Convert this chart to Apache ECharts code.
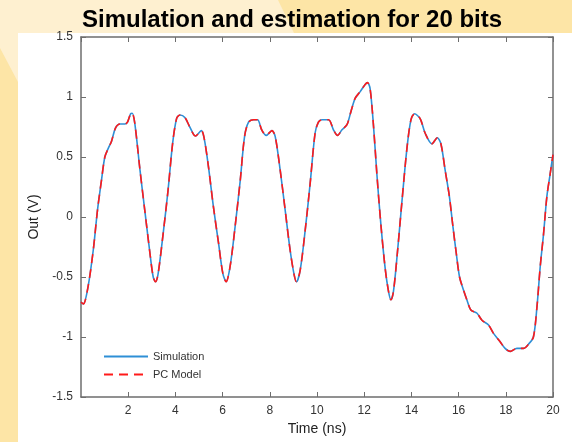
<!DOCTYPE html>
<html>
<head>
<meta charset="utf-8">
<script src="https://cdn.jsdelivr.net/npm/echarts@6/dist/echarts.min.js"></script>
<style>
html,body{margin:0;padding:0;background:#fde5a6;}
#chart{width:572px;height:442px;}
</style>
</head>
<body>
<div id="chart"></div>
<script>
// time axis (ns)
var timeNs = [0, 0.1, 0.3, 0.52, 0.7, 0.87, 1.01, 1.15, 1.29, 1.46, 1.65, 1.86, 1.97, 2.1, 2.17, 2.28, 2.5, 2.7, 2.92, 3.06, 3.16, 3.27, 3.48, 3.69, 3.88, 4.05, 4.19, 4.4, 4.61, 4.85, 5.1, 5.22, 5.4, 5.61, 5.83, 6.01, 6.15, 6.32, 6.53, 6.75, 6.93, 7.1, 7.31, 7.48, 7.66, 7.85, 8.09, 8.23, 8.44, 8.65, 8.86, 9.03, 9.13, 9.29, 9.5, 9.71, 9.92, 10.06, 10.2, 10.49, 10.7, 10.87, 11.05, 11.27, 11.44, 11.62, 11.83, 12.04, 12.14, 12.25, 12.39, 12.54, 12.71, 12.89, 13.03, 13.13, 13.24, 13.41, 13.6, 13.81, 13.98, 14.13, 14.37, 14.58, 14.87, 15.1, 15.25, 15.43, 15.61, 15.76, 15.9, 16.04, 16.21, 16.35, 16.52, 16.77, 16.99, 17.27, 17.48, 17.76, 17.97, 18.19, 18.47, 18.75, 18.96, 19.17, 19.32, 19.46, 19.6, 19.74, 19.88, 20];
// simulated output (V)
var simOut = [-0.71, -0.725, -0.58, -0.275, 0.06, 0.31, 0.5, 0.57, 0.63, 0.74, 0.775, 0.775, 0.79, 0.86, 0.865, 0.78, 0.39, 0.06, -0.3, -0.5, -0.54, -0.47, -0.14, 0.225, 0.61, 0.82, 0.85, 0.83, 0.75, 0.675, 0.72, 0.655, 0.42, 0.086, -0.22, -0.47, -0.54, -0.41, -0.08, 0.31, 0.67, 0.79, 0.81, 0.81, 0.725, 0.68, 0.72, 0.67, 0.39, 0.06, -0.275, -0.48, -0.54, -0.44, -0.11, 0.28, 0.7, 0.79, 0.81, 0.81, 0.725, 0.68, 0.725, 0.77, 0.88, 0.99, 1.045, 1.105, 1.12, 1.07, 0.77, 0.35, -0.07, -0.43, -0.62, -0.69, -0.62, -0.29, 0.13, 0.57, 0.81, 0.86, 0.82, 0.7, 0.61, 0.66, 0.61, 0.39, 0.17, -0.08, -0.3, -0.5, -0.61, -0.69, -0.775, -0.8, -0.86, -0.9, -0.97, -1.04, -1.095, -1.12, -1.095, -1.095, -1.06, -1.0, -0.75, -0.41, -0.14, 0.17, 0.36, 0.52];
// PC model output (V), overlays the simulation
var pcModelOut = [-0.71, -0.725, -0.58, -0.275, 0.06, 0.31, 0.5, 0.57, 0.63, 0.74, 0.775, 0.775, 0.79, 0.86, 0.865, 0.78, 0.39, 0.06, -0.3, -0.5, -0.54, -0.47, -0.14, 0.225, 0.61, 0.82, 0.85, 0.83, 0.75, 0.675, 0.72, 0.655, 0.42, 0.086, -0.22, -0.47, -0.54, -0.41, -0.08, 0.31, 0.67, 0.79, 0.81, 0.81, 0.725, 0.68, 0.72, 0.67, 0.39, 0.06, -0.275, -0.48, -0.54, -0.44, -0.11, 0.28, 0.7, 0.79, 0.81, 0.81, 0.725, 0.68, 0.725, 0.77, 0.88, 0.99, 1.045, 1.105, 1.12, 1.07, 0.77, 0.35, -0.07, -0.43, -0.62, -0.69, -0.62, -0.29, 0.13, 0.57, 0.81, 0.86, 0.82, 0.7, 0.61, 0.66, 0.61, 0.39, 0.17, -0.08, -0.3, -0.5, -0.61, -0.69, -0.775, -0.8, -0.86, -0.9, -0.97, -1.04, -1.095, -1.12, -1.095, -1.095, -1.06, -1.0, -0.75, -0.41, -0.14, 0.17, 0.36, 0.52];

var seriesNames = ['Simulation', 'PC Model'];

function pairs(xs, ys) {
  var out = [];
  for (var i = 0; i < xs.length; i++) {
    out.push([xs[i], ys[i]]);
  }
  return out;
}

var chart = echarts.init(document.getElementById('chart'));
var font = 'Liberation Sans, Arial, sans-serif';
var axisGrey = '#6e6e6e';

var options = {
  backgroundColor: '#fde5a6',
  animation: false,
  title: {
    text: 'Simulation and estimation for 20 bits',
    left: 77,
    top: 3,
    textStyle: {fontSize: 24, fontWeight: 'bold', color: '#000', fontFamily: font}
  },
  graphic: [
    {
      type: 'polygon', z: -10, silent: true,
      shape: {points: [[0, 0], [278, 0], [294, 33], [18, 33], [18, 82], [0, 48]]},
      style: {fill: '#fef0d0'}
    },
    {
      type: 'rect', z: -9, silent: true,
      shape: {x: 18, y: 33, width: 554, height: 409},
      style: {fill: '#ffffff'}
    }
  ],
  legend: {
    orient: 'vertical',
    left: 98,
    top: 346,
    itemWidth: 44,
    itemHeight: 8,
    itemGap: 7,
    itemStyle: {opacity: 0},
    textStyle: {fontSize: 11, color: '#333', fontFamily: font},
    data: seriesNames
  },
  grid: {left: 81, top: 37, right: 19, bottom: 45},
  xAxis: [
    {
      type: 'value', min: 0, max: 20, interval: 2,
      name: 'Time (ns)', nameLocation: 'middle', nameGap: 24,
      nameTextStyle: {fontSize: 14, color: '#222', fontFamily: font},
      axisLine: {onZero: false, lineStyle: {color: axisGrey, width: 1.5}},
      axisTick: {inside: true, length: 5, lineStyle: {color: axisGrey}},
      axisLabel: {showMinLabel: false, fontSize: 12, color: '#333', fontFamily: font, margin: 8},
      splitLine: {show: false}
    },
    {
      type: 'value', min: 0, max: 20, interval: 2, position: 'top',
      axisLine: {onZero: false, lineStyle: {color: axisGrey, width: 1.5}},
      axisTick: {inside: true, length: 5, lineStyle: {color: axisGrey}},
      axisLabel: {show: false},
      splitLine: {show: false}
    }
  ],
  yAxis: [
    {
      type: 'value', min: -1.5, max: 1.5, interval: 0.5,
      name: 'Out (V)', nameLocation: 'middle', nameGap: 40,
      nameTextStyle: {fontSize: 14, color: '#222', fontFamily: font},
      axisLine: {onZero: false, lineStyle: {color: axisGrey, width: 1.5}},
      axisTick: {inside: true, length: 5, lineStyle: {color: axisGrey}},
      axisLabel: {fontSize: 12, color: '#333', fontFamily: font, margin: 8},
      splitLine: {show: false}
    },
    {
      type: 'value', min: -1.5, max: 1.5, interval: 0.5, position: 'right',
      axisLine: {show: true, onZero: false, lineStyle: {color: axisGrey, width: 1.5}},
      axisTick: {show: true, inside: true, length: 5, lineStyle: {color: axisGrey}},
      axisLabel: {show: false},
      splitLine: {show: false}
    }
  ],
  series: [
    {
      name: seriesNames[0],
      type: 'line',
      smooth: 0.3,
      symbol: 'none',
      lineStyle: {color: '#2e8fd6', width: 1.6},
      itemStyle: {color: '#2e8fd6'},
      data: pairs(timeNs, simOut)
    },
    {
      name: seriesNames[1],
      type: 'line',
      smooth: 0.3,
      symbol: 'none',
      lineStyle: {color: '#ff1a1a', width: 1.6, type: [9, 6]},
      itemStyle: {color: '#ff1a1a'},
      data: pairs(timeNs, pcModelOut)
    }
  ]
};

chart.setOption(options);
</script>
</body>
</html>
